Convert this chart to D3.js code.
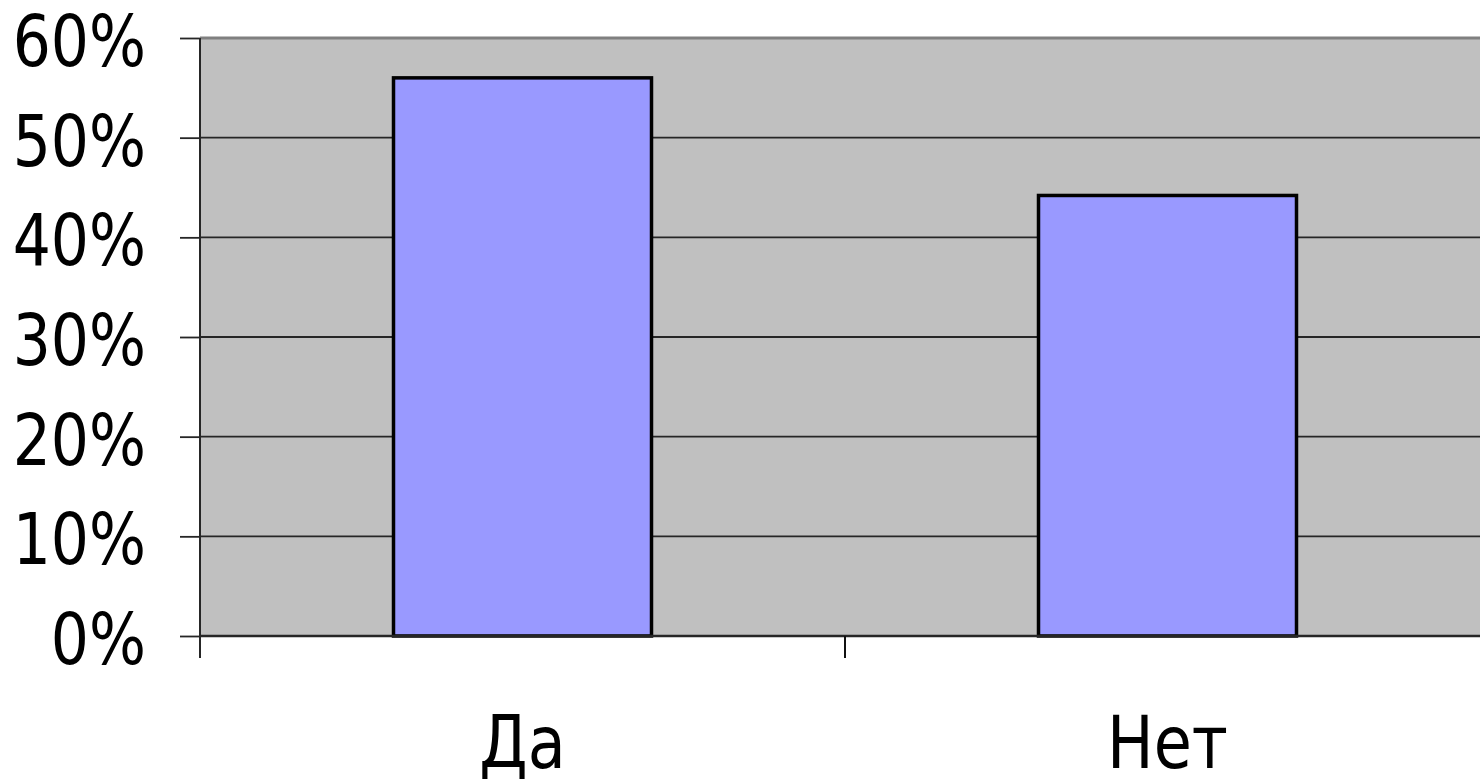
<!DOCTYPE html>
<html>
<head>
<meta charset="utf-8">
<script src="https://cdn.jsdelivr.net/npm/d3@7"></script>
<style>
  html, body { margin: 0; padding: 0; background: #ffffff; }
  svg { display: block; }
  .lbl { font-family: "DejaVu Sans", sans-serif; fill: #000; }
</style>
</head>
<body>
<svg id="chart" width="1480" height="784"></svg>
<script>
// Survey answers and their shares
const categories = ["Да", "Нет"];
const shares = [0.56, 0.442];
const tickValues = [0, 0.1, 0.2, 0.3, 0.4, 0.5, 0.6];
const tickLabels = ["0%", "10%", "20%", "30%", "40%", "50%", "60%"];

const svg = d3.select("#chart");
const plot = { left: 200, right: 1490, top: 38, bottom: 636 };

const x = d3.scaleBand().domain(categories).range([plot.left, plot.right]).paddingInner(0).paddingOuter(0);
const y = d3.scaleLinear().domain([0, 0.6]).range([plot.bottom, plot.top]);
const barFrac = 0.4;

// plot background
svg.append("rect")
  .attr("x", plot.left).attr("y", plot.top)
  .attr("width", plot.right - plot.left).attr("height", plot.bottom - plot.top)
  .attr("fill", "#c0c0c0");

// horizontal gridlines
svg.append("g").selectAll("line")
  .data(tickValues.filter(v => v > 0 && v < 0.6))
  .join("line")
  .attr("x1", plot.left).attr("x2", plot.right)
  .attr("y1", d => y(d)).attr("y2", d => y(d))
  .attr("stroke", "#262626").attr("stroke-width", 1.8);

// top edge
svg.append("line")
  .attr("x1", plot.left).attr("x2", plot.right)
  .attr("y1", y(0.6)).attr("y2", y(0.6))
  .attr("stroke", "#808080").attr("stroke-width", 3);

// bars
svg.append("g").selectAll("rect")
  .data(categories.map((c, i) => ({ c, v: shares[i] })))
  .join("rect")
  .attr("x", d => x(d.c) + x.bandwidth() * (1 - barFrac) / 2)
  .attr("width", x.bandwidth() * barFrac)
  .attr("y", d => y(d.v))
  .attr("height", d => y(0) - y(d.v))
  .attr("fill", "#9999ff")
  .attr("stroke", "#000")
  .attr("stroke-width", 3.5);

// value axis
const yAxis = d3.axisLeft(y).tickValues(tickValues).tickSize(20).tickFormat("");
const gy = svg.append("g").attr("transform", `translate(${plot.left},0)`).call(yAxis);
gy.select(".domain").remove();
gy.selectAll(".tick line").attr("stroke", "#262626").attr("stroke-width", 1.8);
svg.append("line")
  .attr("x1", plot.left).attr("x2", plot.left)
  .attr("y1", plot.top).attr("y2", plot.bottom + 22)
  .attr("stroke", "#262626").attr("stroke-width", 2);

svg.append("g").selectAll("text")
  .data(tickValues)
  .join("text")
  .attr("class", "lbl")
  .attr("text-anchor", "end")
  .attr("transform", d => `translate(146,${y(d) + 28}) scale(1,1.18)`)
  .attr("font-size", 60)
  .text((d, i) => tickLabels[i]);

// category axis
svg.append("line")
  .attr("x1", plot.left).attr("x2", plot.right)
  .attr("y1", plot.bottom).attr("y2", plot.bottom)
  .attr("stroke", "#262626").attr("stroke-width", 2.5);

svg.append("g").selectAll("line")
  .data(categories.slice(1))
  .join("line")
  .attr("x1", d => x(d)).attr("x2", d => x(d))
  .attr("y1", plot.bottom).attr("y2", plot.bottom + 22)
  .attr("stroke", "#111").attr("stroke-width", 2);

svg.append("g").selectAll("text")
  .data(categories)
  .join("text")
  .attr("class", "lbl")
  .attr("text-anchor", "middle")
  .attr("transform", d => `translate(${x(d) + x.bandwidth() / 2},768) scale(1,1.18)`)
  .attr("font-size", 62)
  .text(d => d);
</script>
</body>
</html>
